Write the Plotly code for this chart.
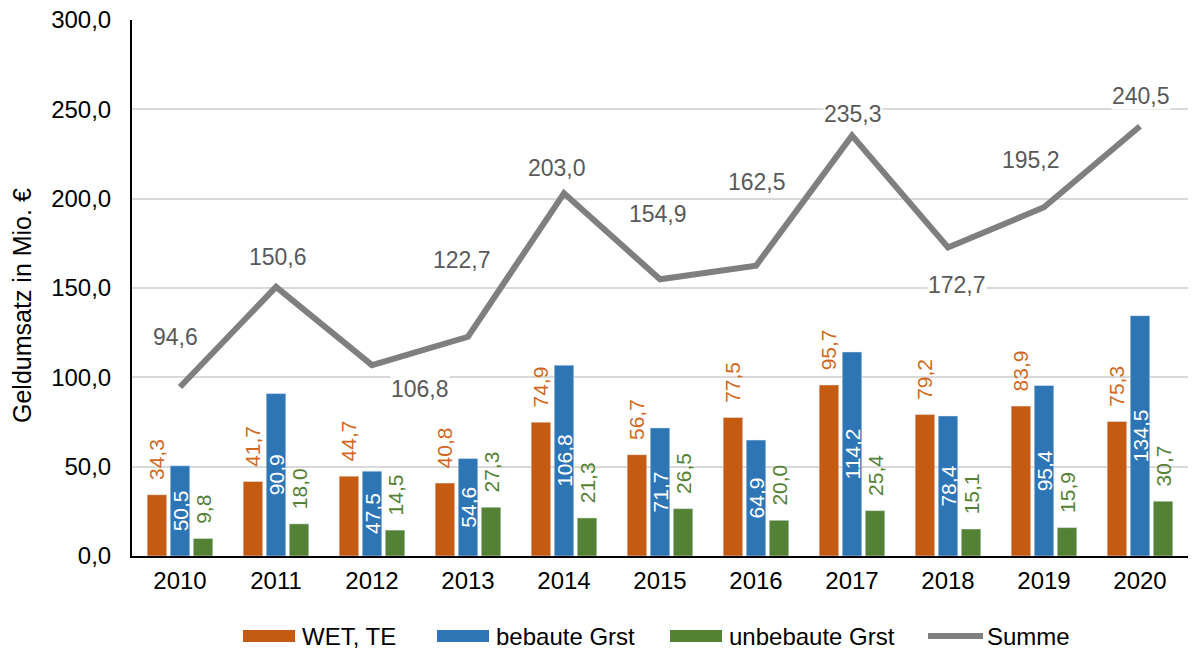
import plotly.graph_objects as go

years = [2010, 2011, 2012, 2013, 2014, 2015, 2016, 2017, 2018, 2019, 2020]
year_labels = ["2010", "2011", "2012", "2013", "2014", "2015", "2016", "2017", "2018", "2019", "2020"]
wet_te = [34.3, 41.7, 44.7, 40.8, 74.9, 56.7, 77.5, 95.7, 79.2, 83.9, 75.3]
bebaute = [50.5, 90.9, 47.5, 54.6, 106.8, 71.7, 64.9, 114.2, 78.4, 95.4, 134.5]
unbebaute = [9.8, 18.0, 14.5, 27.3, 21.3, 26.5, 20.0, 25.4, 15.1, 15.9, 30.7]
summe = [94.6, 150.6, 106.8, 122.7, 203.0, 154.9, 162.5, 235.3, 172.7, 195.2, 240.5]

series_names = ["WET, TE", "bebaute Grst", "unbebaute Grst", "Summe"]
y_title = "Geldumsatz in Mio. €"

# label offsets for the Summe labels (pixels)
label_dx = [-5, 2, 48, -6, -7, -2, 1, 1, 9, -13, 1]
label_dy = [50, 30, -24, 77, 25, 65, 84, 22, -38, 47, 30]

C_OR = "#C55A11"
C_BL = "#2E75B6"
C_GR = "#548235"
C_GY = "#7F7F7F"
FONT = "Liberation Sans, Arial, sans-serif"
NB = "\u00a0\u00a0"
FS = 24
FB = 21

W, H = 1194, 649
ML, MR, MT, MB = 132, 6, 20, 93

fig = go.Figure()
fig.add_trace(go.Bar(x=years, y=wet_te, name=series_names[0], marker_color=C_OR,
                     texttemplate=NB + "%{y:.1f}", textposition="outside", textangle=-90,
                     constraintext="none",
                     textfont=dict(color="#D2691E", size=FB, family=FONT),
                     cliponaxis=False))
fig.add_trace(go.Bar(x=years, y=bebaute, name=series_names[1], marker_color=C_BL,
                     texttemplate="%{y:.1f}", textposition="inside", insidetextanchor="middle",
                     textangle=-90, constraintext="none",
                     textfont=dict(color="white", size=FB, family=FONT)))
fig.add_trace(go.Bar(x=years, y=unbebaute, name=series_names[2], marker_color=C_GR,
                     texttemplate=NB + "%{y:.1f}", textposition="outside", textangle=-90,
                     constraintext="none",
                     textfont=dict(color=C_GR, size=FB, family=FONT),
                     cliponaxis=False))
fig.add_trace(go.Scatter(x=years, y=summe, name=series_names[3], mode="lines",
                         line=dict(color=C_GY, width=6)))

for i, (yr, v) in enumerate(zip(years, summe)):
    fig.add_annotation(x=yr, y=v, text=f"{v:.1f}".replace(".", ","), showarrow=False,
                       xshift=label_dx[i], yshift=label_dy[i], bgcolor="white",
                       borderpad=0,
                       font=dict(size=23, color="#595959", family=FONT))

# manual legend with wide swatches (pixel positions converted to paper coords)
pw = W - ML - MR
ph = H - MT - MB
def px_x(p):
    return (p - ML) / pw
def px_y(p):
    return (H - MB - p) / ph

leg_swatch_x = [243, 437, 670, 928]
leg_colors = [C_OR, C_BL, C_GR, C_GY]
leg_y = 636
for k, (name, col) in enumerate(zip(series_names, leg_colors)):
    x0 = leg_swatch_x[k]
    if k < 3:
        fig.add_shape(type="rect", xref="paper", yref="paper",
                      x0=px_x(x0), x1=px_x(x0 + 52), y0=px_y(leg_y + 6), y1=px_y(leg_y - 6),
                      fillcolor=col, line=dict(width=0))
    else:
        fig.add_shape(type="line", xref="paper", yref="paper",
                      x0=px_x(x0), x1=px_x(x0 + 55), y0=px_y(leg_y), y1=px_y(leg_y),
                      line=dict(color=col, width=6))
    fig.add_annotation(xref="paper", yref="paper", x=px_x(x0 + 57), y=px_y(leg_y),
                       xanchor="left", yanchor="middle", text=name, showarrow=False,
                       font=dict(size=FS, color="#000000", family=FONT))

# y-axis title (placed as rotated text)
fig.add_annotation(xref="paper", yref="paper", x=px_x(22), y=px_y(306),
                   xanchor="center", yanchor="middle", text=y_title, textangle=-90,
                   showarrow=False, font=dict(size=25, color="#000000", family=FONT))

fig.update_layout(
    width=W, height=H,
    margin=dict(l=ML, r=MR, t=MT, b=MB),
    paper_bgcolor="white", plot_bgcolor="white",
    separators=",.",
    barmode="group", bargap=0.28, bargroupgap=0.15,
    font=dict(family=FONT, size=FS, color="#000000"),
    showlegend=False,
)
fig.update_yaxes(range=[0, 300], dtick=50, tickformat=".1f", showgrid=True,
                 gridcolor="#D9D9D9", gridwidth=1.5, showline=True, linecolor="black",
                 linewidth=2, ticks="", ticklabelstandoff=14,
                 tickfont=dict(size=FS), zeroline=False)
fig.update_xaxes(type="linear", range=[2009.5, 2020.5], tickmode="array",
                 tickvals=years, ticktext=year_labels,
                 showline=True, linecolor="black", linewidth=2, ticks="",
                 ticklabelstandoff=2, tickfont=dict(size=FS), showgrid=False, zeroline=False)

fig.write_html("out.html", config={"displayModeBar": False},
               post_script="document.body.style.margin='0';")
